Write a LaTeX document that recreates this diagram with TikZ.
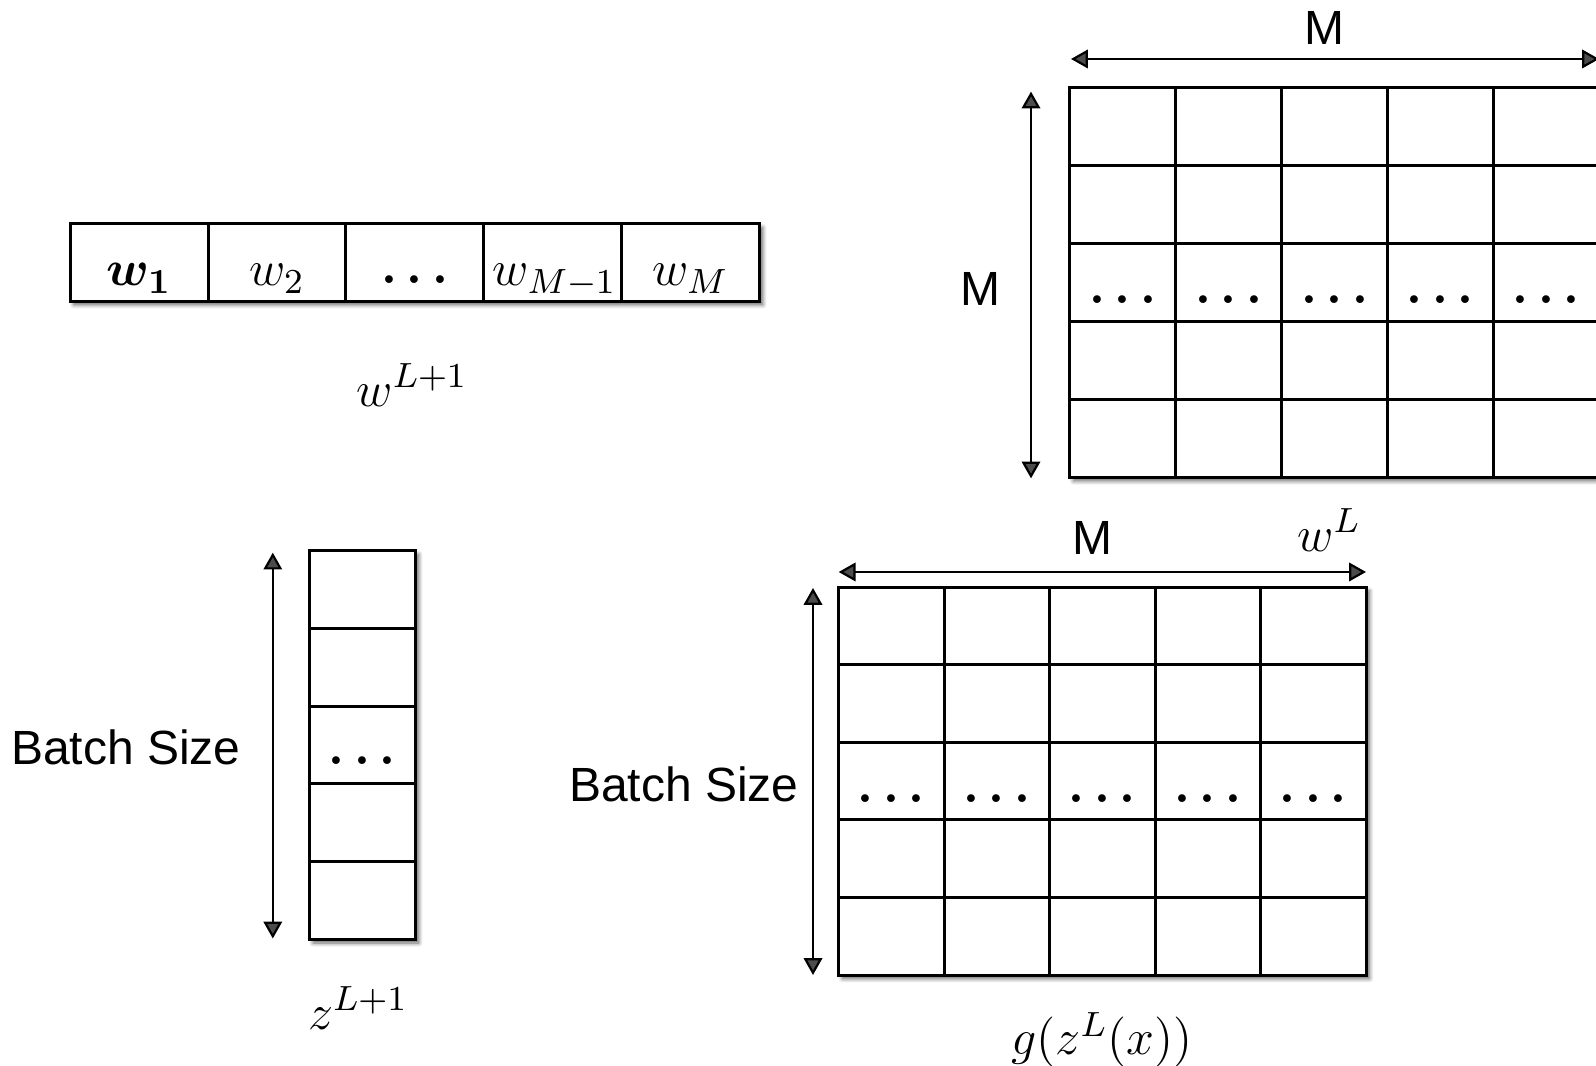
\RequirePackage{fix-cm}
\documentclass[tikz,border=0pt]{standalone}
\usepackage{amsmath}
\usepackage{fontspec}
\setsansfont{Liberation Sans}
\usetikzlibrary{arrows.meta,shadows.blur}
\tikzset{
  gridline/.style={line width=0.75pt, black},
  boxshadow/.style={fill=white, blur shadow={shadow xshift=0.9pt, shadow yshift=-0.9pt, shadow blur radius=1pt, shadow blur steps=6, shadow opacity=60}},
  dimarrow/.style={line width=0.55pt, {Triangle[length=4.2pt,width=4.6pt]}-{Triangle[length=4.2pt,width=4.6pt]}},
  lab/.style={font=\sffamily\fontsize{12}{14}\selectfont, inner sep=0pt},
  mlab/.style={font=\fontsize{12.5}{15}\selectfont, inner sep=0pt},
  cellmath/.style={font=\fontsize{12.5}{15}\selectfont, inner sep=0pt, anchor=base},
}
\begin{document}
\begin{tikzpicture}[x=0.25pt,y=-0.25pt]
\useasboundingbox (0,0) rectangle (1596,1066);
\clip (0,0) rectangle (1596,1066);

% ---------- row vector w^{L+1}
\def\rx{70.2}\def\ry{223.9}\def\rcw{137.82}\def\rrh{77.4}
\path[boxshadow] (\rx,\ry) rectangle ({\rx+5*\rcw},{\ry+\rrh});
\foreach \i in {0,...,4}
  \draw[gridline] ({\rx+\i*\rcw},\ry) rectangle ++(\rcw,\rrh);
\node[cellmath] (w1) at ({\rx+0.5*\rcw},{\ry+62}) {$\boldsymbol{w_1}$};
\node[cellmath] (w2) at ({\rx+1.5*\rcw},{\ry+62}) {$w_2$};
\node[cellmath] (wd) at ({\rx+2.5*\rcw},{\ry+60}) {$\boldsymbol{\ldots}$};
\node[cellmath] (wm1) at ({\rx+3.5*\rcw+2},{\ry+62}) {$w_{M-1}$};
\node[cellmath] (wm) at ({\rx+4.5*\rcw},{\ry+62}) {$w_M$};
\node[mlab] (wLp1) at (412,385) {$w^{L+1}$};

% ---------- top-right matrix w^L
\def\ax{1069.8}\def\ay{87.5}\def\acw{105.9}\def\arh{77.98}
\path[boxshadow] (\ax,\ay) rectangle ({\ax+5*\acw},{\ay+5*\arh});
\foreach \c in {0,...,4}
  \foreach \r in {0,...,4}
    \draw[gridline] ({\ax+\c*\acw},{\ay+\r*\arh}) rectangle ++(\acw,\arh);
\foreach \c in {0,...,4}
  \node[cellmath] (ad\c) at ({\ax+(\c+0.5)*\acw},{\ay+2*\arh+60}) {$\boldsymbol{\ldots}$};
\coordinate (aL) at (1071,59);
\coordinate (aR) at (1599,59);
\draw[dimarrow] (aL) -- (aR);
\node[lab] (aM) at (1324,28) {M};
\coordinate (aT) at (1031,91.6);
\coordinate (aB) at (1031,478.4);
\draw[dimarrow] (aT) -- (aB);
\node[lab] (aM2) at (980,289) {M};
\node[mlab] (wL) at (1329,530) {$w^L$};

% ---------- column vector z^{L+1}
\def\zx{309.4}\def\zy{550.7}\def\zcw{105.9}\def\zrh{77.76}
\path[boxshadow] (\zx,\zy) rectangle ({\zx+\zcw},{\zy+5*\zrh});
\foreach \r in {0,...,4}
  \draw[gridline] (\zx,{\zy+\r*\zrh}) rectangle ++(\zcw,\zrh);
\node[cellmath] (zd) at ({\zx+0.5*\zcw},{\zy+2*\zrh+58}) {$\boldsymbol{\ldots}$};
\coordinate (zT) at (272.8,552.7);
\coordinate (zB) at (272.8,938.5);
\draw[dimarrow] (zT) -- (zB);
\node[lab] (zbs) at (126,747) {Batch Size};
\node[mlab] (zLp1) at (358,1008) {$z^{L+1}$};

% ---------- bottom matrix g(z^L(x))
\def\gx{838.7}\def\gy{587.3}\def\gcw{105.46}\def\grh{77.56}
\path[boxshadow] (\gx,\gy) rectangle ({\gx+5*\gcw},{\gy+5*\grh});
\foreach \c in {0,...,4}
  \foreach \r in {0,...,4}
    \draw[gridline] ({\gx+\c*\gcw},{\gy+\r*\grh}) rectangle ++(\gcw,\grh);
\foreach \c in {0,...,4}
  \node[cellmath] (gd\c) at ({\gx+(\c+0.5)*\gcw},{\gy+2*\grh+60}) {$\boldsymbol{\ldots}$};
\coordinate (gL) at (838.7,572);
\coordinate (gR) at (1366,572);
\draw[dimarrow] (gL) -- (gR);
\node[lab] (gM) at (1092,538) {M};
\coordinate (gT) at (813,588);
\coordinate (gB) at (813,975);
\draw[dimarrow] (gT) -- (gB);
\node[lab] (gbs) at (684,784) {Batch Size};
\node[mlab] (gz) at (1102,1040) {$g(z^L(x))$};
\end{tikzpicture}
\end{document}
